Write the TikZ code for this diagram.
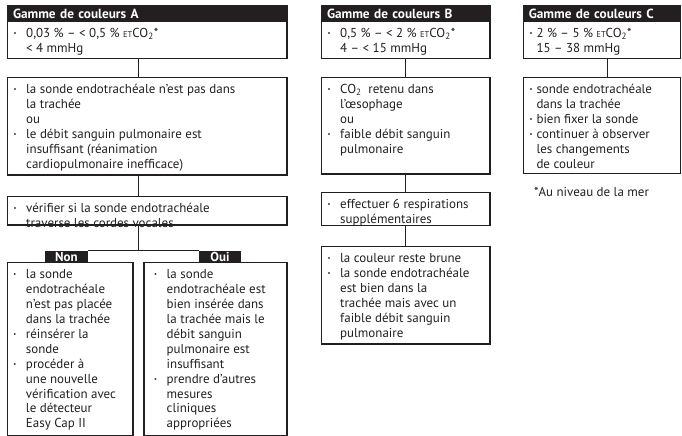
\documentclass[tikz,border=0pt]{standalone}
\usepackage{fontspec}
\setmainfont{PT Sans}
\definecolor{ink}{RGB}{35,31,32}
\newlength\bulw
\setlength\bulw{12.5bp}
\newcommand\bul{\strut\makebox[\bulw][l]{\raisebox{2bp}{\fontsize{6.5}{6.5}\selectfont\textbullet}}}
\newcommand\ind{\strut\hspace*{\bulw}}
\newcommand\etco{{\fontsize{8.5}{8.5}\selectfont ET}CO\textsubscript{2}*}

\begin{document}
\begin{tikzpicture}[x=1bp,y=-1bp,
    every node/.style={font=\fontsize{13}{15}\selectfont,text=ink},
    frame/.style={draw=ink,line width=1.1bp,anchor=north west,inner sep=0pt,outer sep=0pt},
    head/.style={fill=ink,text=white,font=\fontsize{13.3}{15}\selectfont\bfseries,anchor=north west,inner xsep=5.5bp,inner ysep=0pt,outer sep=0pt,align=left,minimum height=16.5bp},
    txt/.style={anchor=north west,align=left,inner sep=0pt,xshift=6bp,yshift=-5.5bp},
    tag/.style={fill=ink,text=white,font=\fontsize{13}{15}\selectfont\bfseries,anchor=north west,inner sep=0pt,outer sep=0pt,minimum height=11.3bp},
    narrow/.style={execute at begin node={\setlength{\bulw}{7bp}}},
    link/.style={draw=ink,line width=1bp}]
  \useasboundingbox (0,0) rectangle (682,436);

  % Gamme A
  \node[frame,minimum width=279.5bp,minimum height=52.5bp] (a1) at (7.5,6) {};
  \node[head,text width=268.5bp] (ha) at (7.5,6) {Gamme de couleurs A};
  \node[txt,yshift=1.2bp] (a1t) at (ha.south west) {\bul 0,03 \% – < 0,5 \% \etco\\ \ind < 4 mmHg};
  \node[frame,minimum width=279.5bp,minimum height=97.7bp] (a2) at (7.5,77.3) {};
  \node[txt] (a2t) at (a2.north west) {\bul la sonde endotrachéale n’est pas dans\\ \ind la trachée\\ \ind ou\\
    \bul le débit sanguin pulmonaire est\\ \ind insuffisant (réanimation\\ \ind cardiopulmonaire inefficace)};
  \node[frame,minimum width=279.5bp,minimum height=28.3bp] (a3) at (7.5,196.7) {};
  \node[txt] (a3t) at (a3.north west) {\bul vérifier si la sonde endotrachéale\\ \ind traverse les cordes vocales};

  \node[frame,minimum width=125.7bp,minimum height=173bp] (nb) at (7.3,262.3) {};
  \node[tag,minimum width=43bp] (non) at (45,251) {Non};
  \node[txt] (nbt) at (nb.north west) {\bul la sonde\\ \ind endotrachéale\\ \ind n’est pas placée\\ \ind dans la trachée\\
    \bul réinsérer la\\ \ind sonde\\ \bul procéder à\\ \ind une nouvelle\\ \ind vérification avec\\ \ind le détecteur\\ \ind Easy Cap II};
  \node[frame,minimum width=143bp,minimum height=173bp] (ob) at (144,262.3) {};
  \node[tag,minimum width=42bp] (oui) at (199,251) {Oui};
  \node[txt,xshift=4bp] (obt) at (ob.north west) {\bul la sonde\\ \ind endotrachéale est\\ \ind bien insérée dans\\ \ind la trachée mais le\\
    \ind débit sanguin\\ \ind pulmonaire est\\ \ind insuffisant\\ \bul prendre d’autres\\ \ind mesures\\ \ind cliniques\\ \ind appropriées};
  \coordinate (fork) at (138,251);
  \draw[link] (a3.south -| fork) -- (fork);
  \draw[link] (non.north east) -- (oui.north west);

  % Gamme B
  \node[frame,minimum width=168.5bp,minimum height=52.5bp] (b1) at (321.5,6) {};
  \node[head,text width=157.5bp] (hb) at (321.5,6) {Gamme de couleurs B};
  \node[txt,yshift=1.2bp] (b1t) at (hb.south west) {\bul 0,5 \% – < 2 \% \etco\\ \ind 4 – < 15 mmHg};
  \node[frame,minimum width=168.5bp,minimum height=96.7bp] (b2) at (321.5,77.3) {};
  \node[txt] (b2t) at (b2.north west) {\bul CO\textsubscript{2}\ \ retenu dans\\ \ind l’œsophage\\ \ind ou\\ \bul faible débit sanguin\\ \ind pulmonaire};
  \node[frame,minimum width=168.5bp,minimum height=33bp] (b3) at (321.5,192.7) {};
  \node[txt] (b3t) at (b3.north west) {\bul effectuer 6 respirations\\ \ind supplémentaires};
  \node[frame,minimum width=168.5bp,minimum height=97.3bp] (b4) at (321.5,246.7) {};
  \node[txt] (b4t) at (b4.north west) {\bul la couleur reste brune\\ \bul la sonde endotrachéale\\ \ind est bien dans la\\
    \ind trachée mais avec un\\ \ind faible débit sanguin\\ \ind pulmonaire};

  % Gamme C
  \node[frame,minimum width=157.4bp,minimum height=52.5bp] (c1) at (523.3,6) {};
  \node[head,text width=146.4bp] (hc) at (523.3,6) {Gamme de couleurs C};
  \node[txt,narrow,yshift=1.2bp] (c1t) at (hc.south west) {\bul 2 \% – 5 \% \etco\\ \ind 15 – 38 mmHg};
  \node[frame,minimum width=157.4bp,minimum height=96bp] (c2) at (523.3,77.3) {};
  \node[txt,narrow] (c2t) at (c2.north west) {\bul sonde endotrachéale\\ \ind dans la trachée\\ \bul bien fixer la sonde\\
    \bul continuer à observer\\ \ind les changements\\ \ind de couleur};
  \node[anchor=base west,inner sep=0pt] (note) at (534,197) {*Au niveau de la mer};

  \foreach \from/\to/\x in {a1/a2/138,a2/a3/138,b1/b2/405.5,b2/b3/405.5,b3/b4/405.5,c1/c2/607.5}
    \draw[link] (\from.south -| \x,0) -- (\to.north -| \x,0);
\end{tikzpicture}
\end{document}
